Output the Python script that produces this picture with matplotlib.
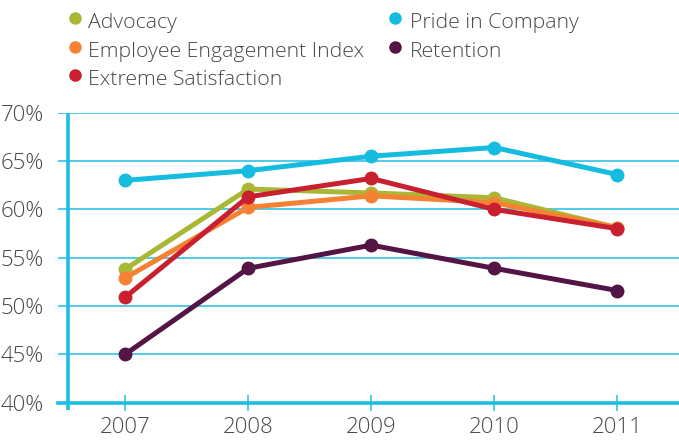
import matplotlib
matplotlib.use("Agg")
import matplotlib.pyplot as plt
from matplotlib.lines import Line2D
from matplotlib.ticker import FuncFormatter

years = [2007, 2008, 2009, 2010, 2011]
advocacy = [53.8, 62.1, 61.7, 61.2, 58.1]
pride = [63.0, 64.0, 65.5, 66.4, 63.6]
engagement = [52.9, 60.2, 61.4, 60.7, 58.1]
retention = [45.0, 53.9, 56.3, 53.9, 51.6]
extreme = [50.9, 61.3, 63.2, 60.0, 58.0]

series_names = ["Advocacy", "Employee Engagement Index", "Extreme Satisfaction",
                "Pride in Company", "Retention"]
colors = {
    "Advocacy": "#A9B735",
    "Pride in Company": "#16BCE0",
    "Employee Engagement Index": "#F58233",
    "Retention": "#541445",
    "Extreme Satisfaction": "#C9202F",
}
yticks = [40, 45, 50, 55, 60, 65, 70]
xtick_labels = ["2007", "2008", "2009", "2010", "2011"]

FONT = ['Open Sans', 'DejaVu Sans']
plt.rcParams['font.family'] = FONT
text_color = "#484848"
grid_color = "#1EBDE2"

W, H = 679, 440
fig = plt.figure(figsize=(W / 100, H / 100), dpi=100)
ax = fig.add_axes([58 / W, (H - 402.7) / H, 1 - 58 / W, (402.7 - 112.7) / H])

ax.set_xlim(2006.455, 2011.5)
ax.set_ylim(40, 70)

for y in yticks[1:]:
    ax.axhline(y, color=grid_color, lw=1.1, zorder=1)

data = {
    "Pride in Company": pride,
    "Retention": retention,
    "Advocacy": advocacy,
    "Employee Engagement Index": engagement,
    "Extreme Satisfaction": extreme,
}
for i, (name, vals) in enumerate(data.items()):
    ax.plot(years, vals, color=colors[name], lw=3.6, marker='o', ms=9,
            solid_capstyle='round', zorder=3 + i)

for s in ax.spines.values():
    s.set_visible(False)
ax.axhline(40, color=grid_color, lw=2.6, zorder=2, clip_on=False)
ax.plot([2006.535, 2006.535], [39.25, 70], color=grid_color, lw=2.6,
        clip_on=False, zorder=2, solid_capstyle='butt')

ax.set_yticks(yticks)
ax.yaxis.set_major_formatter(FuncFormatter(lambda v, p: f"{int(v)}%"))
ax.tick_params(axis='y', length=0, pad=10, labelsize=16, labelcolor=text_color)
ax.set_xticks(years)
ax.set_xticklabels(xtick_labels)
ax.tick_params(axis='x', direction='inout', length=11, width=1.1, color=grid_color,
               pad=5, labelsize=16, labelcolor=text_color)
for lab in ax.get_xticklabels() + ax.get_yticklabels():
    lab.set_fontweight('light')

# legend, placed manually in pixel coordinates
col_x = [(75, 88), (395, 410)]
row_base = [28, 57, 85]
positions = [(0, 0), (0, 1), (0, 2), (1, 0), (1, 1)]
for name, (c, r) in zip(series_names, positions):
    dx, tx = col_x[c]
    yb = row_base[r]
    fig.add_artist(Line2D([dx / W], [1 - (yb - 10) / H], transform=fig.transFigure,
                          ls='none', marker='o', ms=8, color=colors[name]))
    fig.text(tx / W, 1 - yb / H, name, fontsize=15.3, color=text_color,
             fontweight='light', va='baseline', ha='left')

fig.savefig("out.png", dpi=100)
